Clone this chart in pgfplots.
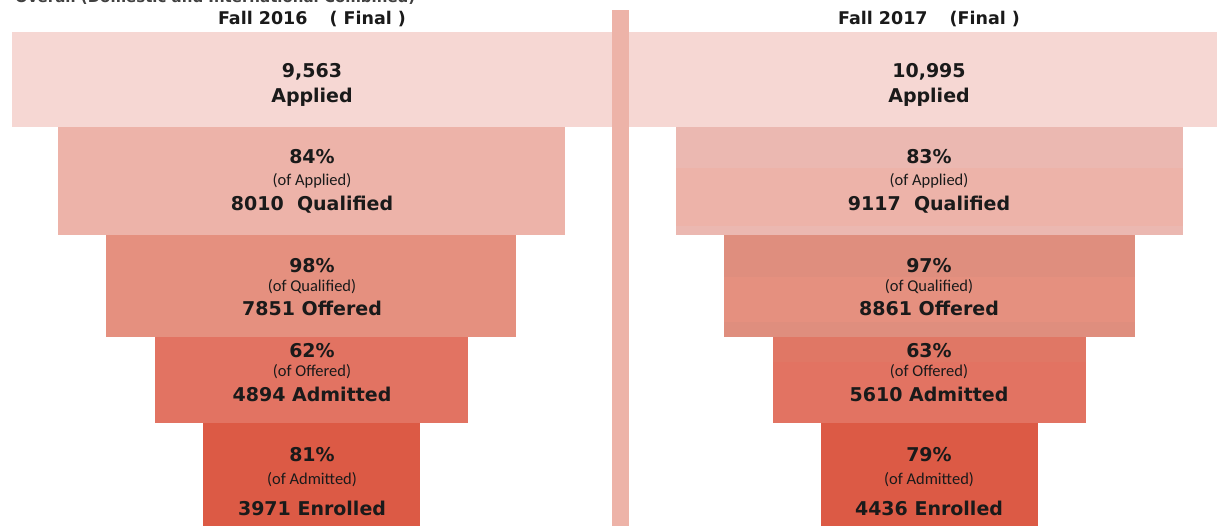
\documentclass[border=0pt]{standalone}
\usepackage{pgfplots}
\pgfplotsset{compat=1.18}
\usepackage{fontspec}
\setmainfont{DejaVu Sans}
\newfontfamily\carlito{Carlito}
\definecolor{cApp}{HTML}{F6D7D3}
\definecolor{cQua}{HTML}{EDB3A9}
\definecolor{cQuaB}{HTML}{EBB8B1}
\definecolor{cOff}{HTML}{E5907F}
\definecolor{cOffB}{HTML}{DF8E7E}
\definecolor{cAdm}{HTML}{E27362}
\definecolor{cAdmB}{HTML}{E07765}
\definecolor{cEnr}{HTML}{DC5A45}
\definecolor{cDiv}{HTML}{EDB3A8}
\definecolor{txt}{HTML}{1A1A1A}
\begin{document}
\begin{tikzpicture}
\begin{axis}[
  width=1217pt, height=526pt, scale only axis,
  xmin=0, xmax=1217, ymin=0, ymax=526, y dir=reverse,
  axis lines=none, ticks=none, clip=true,
]
% Fall 2016 funnel
\addplot[draw=none, fill=cApp] coordinates {(12,32) (612,32) (612,127) (12,127)} -- cycle;
\addplot[draw=none, fill=cQua] coordinates {(58,127) (565,127) (565,235) (58,235)} -- cycle;
\addplot[draw=none, fill=cOff] coordinates {(106,235) (516,235) (516,337) (106,337)} -- cycle;
\addplot[draw=none, fill=cAdm] coordinates {(155,337) (468,337) (468,423) (155,423)} -- cycle;
\addplot[draw=none, fill=cEnr] coordinates {(203,423) (420,423) (420,526) (203,526)} -- cycle;
% Fall 2017 funnel
\addplot[draw=none, fill=cApp] coordinates {(629,32) (1217,32) (1217,127) (629,127)} -- cycle;
\addplot[draw=none, fill=cQuaB] coordinates {(676,127) (1183,127) (1183,235) (676,235)} -- cycle;
\addplot[draw=none, fill=cQua] coordinates {(676,168) (1183,168) (1183,226) (676,226)} -- cycle;
\addplot[draw=none, fill=cOffB] coordinates {(724,235) (1135,235) (1135,337) (724,337)} -- cycle;
\addplot[draw=none, fill=cOff] coordinates {(724,277) (1135,277) (1135,322) (724,322)} -- cycle;
\addplot[draw=none, fill=cAdm] coordinates {(773,337) (1086,337) (1086,423) (773,423)} -- cycle;
\addplot[draw=none, fill=cAdmB] coordinates {(773,337) (1086,337) (1086,362) (773,362)} -- cycle;
\addplot[draw=none, fill=cEnr] coordinates {(821,423) (1038,423) (1038,526) (821,526)} -- cycle;
% divider
\addplot[draw=none, fill=cDiv] coordinates {(612,10) (629,10) (629,526) (612,526)} -- cycle;

% clipped title
\node[anchor=base west, font=\fontsize{15}{17}\selectfont\bfseries, text=black!75, inner sep=0pt] at (axis cs:15,3) {Overall (Domestic and International Combined)};

% headers
\node[font=\fontsize{17.5}{20}\selectfont\bfseries, text=txt] at (axis cs:312,19) {Fall 2016\hspace{22pt}( Final )};
\node[font=\fontsize{17.5}{20}\selectfont\bfseries, text=txt] at (axis cs:929,19) {Fall 2017\hspace{22pt}(Final )};

\tikzset{big/.style={font=\fontsize{19}{22}\selectfont\bfseries, text=txt, inner sep=0pt},
         sm/.style={font=\carlito\fontsize{16.5}{19}\selectfont, text=txt, inner sep=0pt}}
% left labels
\node[big] at (axis cs:312,72) {9,563};
\node[big] at (axis cs:312,97) {Applied};
\node[big] at (axis cs:312,157) {84\%};
\node[sm]  at (axis cs:312,181) {(of Applied)};
\node[big] at (axis cs:312,205) {8010\ \ Qualified};
\node[big] at (axis cs:312,266) {98\%};
\node[sm]  at (axis cs:312,287) {(of Qualified)};
\node[big] at (axis cs:312,308) {7851 Offered};
\node[big] at (axis cs:312,351) {62\%};
\node[sm]  at (axis cs:312,372) {(of Offered)};
\node[big] at (axis cs:312,394) {4894 Admitted};
\node[big] at (axis cs:312,455) {81\%};
\node[sm]  at (axis cs:312,480) {(of Admitted)};
\node[big] at (axis cs:312,508) {3971 Enrolled};
% right labels
\node[big] at (axis cs:929,72) {10,995};
\node[big] at (axis cs:929,97) {Applied};
\node[big] at (axis cs:929,157) {83\%};
\node[sm]  at (axis cs:929,181) {(of Applied)};
\node[big] at (axis cs:929,205) {9117\ \ Qualified};
\node[big] at (axis cs:929,266) {97\%};
\node[sm]  at (axis cs:929,287) {(of Qualified)};
\node[big] at (axis cs:929,308) {8861 Offered};
\node[big] at (axis cs:929,351) {63\%};
\node[sm]  at (axis cs:929,372) {(of Offered)};
\node[big] at (axis cs:929,394) {5610 Admitted};
\node[big] at (axis cs:929,455) {79\%};
\node[sm]  at (axis cs:929,480) {(of Admitted)};
\node[big] at (axis cs:929,508) {4436 Enrolled};
\end{axis}
\pgfresetboundingbox
\path[use as bounding box] (current axis.south west) rectangle (current axis.north east);
\end{tikzpicture}
\end{document}
